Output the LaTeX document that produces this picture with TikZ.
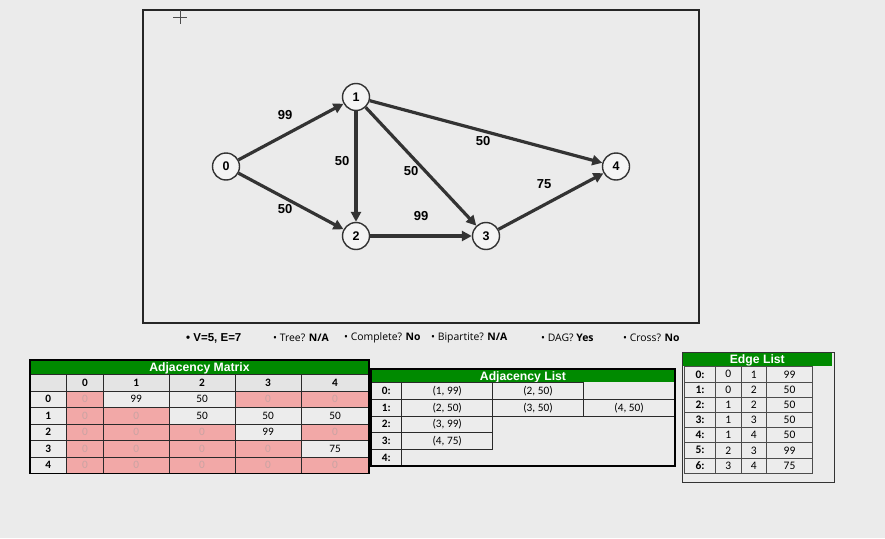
\documentclass[tikz,border=0pt]{standalone}
\usepackage{fontspec}
\setmainfont{Liberation Sans}
\newfontfamily\calib{Carlito}
\newfontfamily\statf{Open Sans}
\usetikzlibrary{arrows.meta}
\definecolor{bg}{HTML}{EBEBEB}
\definecolor{hdrgreen}{HTML}{008A00}
\definecolor{pinkc}{HTML}{F2A8A7}
\definecolor{edgec}{HTML}{333333}
\definecolor{zerotxt}{HTML}{C9A3A3}
\definecolor{cellbg}{HTML}{ECECEC}
\definecolor{hdrcell}{HTML}{E4E4E4}
\definecolor{gridc}{HTML}{2A2A2A}
\begin{document}
\begin{tikzpicture}[x=1pt,y=-1pt,
  vert/.style={circle, draw=edgec, line width=1.4pt, fill=white!45!bg, minimum size=27pt, inner sep=0pt, font=\bfseries\fontsize{12.5}{12.5}\selectfont},
  wedge/.style={draw=edgec, line width=3.2pt, -{Triangle[length=10pt,width=10pt]}},
  wlabel/.style={font=\bfseries\fontsize{13}{13}\selectfont, inner sep=0pt},
  ghead/.style={fill=hdrgreen, text=white, inner sep=0pt, text height=9.3pt, text depth=0pt, font=\bfseries\fontsize{12.2}{12.2}\selectfont},
  basecell/.style={draw=gridc, line width=0.7pt, inner sep=0pt, font=\calib\fontsize{11.3}{11.3}\selectfont},
  hcell/.style={basecell, fill=hdrcell, font=\calib\bfseries\fontsize{11.3}{11.3}\selectfont, minimum height=16.5pt},
  lcell/.style={basecell, fill=cellbg, font=\calib\bfseries\fontsize{11.3}{11.3}\selectfont},
  vcell/.style={basecell, fill=cellbg, minimum height=16.5pt},
  zcell/.style={basecell, fill=pinkc, text=zerotxt, minimum height=16.5pt},
  ecell/.style={draw=gray!60!black, line width=0.6pt, inner sep=0pt, fill=cellbg, font=\calib\fontsize{11.5}{11.5}\selectfont, minimum height=15.2pt},
  elcell/.style={ecell, font=\calib\bfseries\fontsize{11.5}{11.5}\selectfont},
  stat/.style={anchor=west, inner sep=0pt, font=\statf\fontsize{10.4}{10.4}\selectfont}
]
\useasboundingbox[fill=bg] (0,0) rectangle (885,538);

% canvas
\draw[draw=black!85, line width=1.5pt] (143,10) rectangle (699,323);
% cursor
\draw[black!70, line width=0.6pt] (173,17) -- (187,17) (180,10) -- (180,24);

% vertices
\node[vert] (v0) at (226,166.5) {0};
\node[vert] (v1) at (356,97) {1};
\node[vert] (v2) at (356,236) {2};
\node[vert] (v3) at (486,236) {3};
\node[vert] (v4) at (616,166.5) {4};

% edges
\draw[wedge] (v0) -- (v1);
\draw[wedge] (v0) -- (v2);
\draw[wedge] (v1) -- (v2);
\draw[wedge] (v1) -- (v3);
\draw[wedge] (v1) -- (v4);
\draw[wedge] (v2) -- (v3);
\draw[wedge] (v3) -- (v4);

% weights
\node[wlabel] (w01) at (285,115) {99};
\node[wlabel] (w02) at (285,209) {50};
\node[wlabel] (w12) at (342,161) {50};
\node[wlabel] (w13) at (411,171) {50};
\node[wlabel] (w23) at (421,216) {99};
\node[wlabel] (w14) at (483,141) {50};
\node[wlabel] (w34) at (544,184) {75};

% stats line
\node[stat, font=\bfseries\fontsize{11.5}{11.5}\selectfont] (s1) at (186,338) {• V=5, E=7};
\node[stat] (s2) at (273,338) {• Tree? \textbf{N/A}};
\node[stat] (s3) at (344,338) {• Complete? \textbf{No}};
\node[stat] (s4) at (431,338) {• Bipartite? \textbf{N/A}};
\node[stat] (s5) at (541,338) {• DAG? \textbf{Yes}};
\node[stat] (s6) at (623,338) {• Cross? \textbf{No}};

% ---------------- Adjacency Matrix ----------------
\node[ghead, minimum width=339pt, minimum height=14.5pt] (amhead) at (199.5,367.25) {Adjacency Matrix};
\node[hcell, minimum width=36.7pt] (am-corner) at (48.35,382.75) {};
\foreach \c in {0,...,4} {
  \pgfmathsetmacro{\xl}{{66.7,103.3,169,235,301}[\c]}
  \pgfmathsetmacro{\cw}{{36.6,65.7,66,66,68}[\c]}
  \node[hcell, minimum width=\cw pt] (am-h\c) at (\xl+\cw/2,382.75) {\c};
}
\foreach \r/\vals in {0/{0,99,50,0,0}, 1/{0,0,50,50,50}, 2/{0,0,0,99,0}, 3/{0,0,0,0,75}, 4/{0,0,0,0,0}} {
  \node[lcell, minimum width=36.7pt, minimum height=16.5pt] (am-l\r) at (48.35,399.25+16.5*\r) {\r};
  \foreach \v [count=\c from 0] in \vals {
    \pgfmathsetmacro{\xl}{{66.7,103.3,169,235,301}[\c]}
    \pgfmathsetmacro{\cw}{{36.6,65.7,66,66,68}[\c]}
    \ifnum\v=0 \def\mysty{zcell}\else\def\mysty{vcell}\fi
    \node[\mysty, minimum width=\cw pt] (am-\r-\c) at (\xl+\cw/2,399.25+16.5*\r) {\v};
  }
}
\draw[black, line width=1.1pt] (30,360) rectangle (369,473.5);

% ---------------- Adjacency List ----------------
\node[ghead, minimum width=304pt, minimum height=13pt] (alhead) at (523,375.75) {Adjacency List};
\foreach \r/\yc/\h in {0/391/17, 1/407.75/16.5, 2/424.25/16.5, 3/440.75/16.5, 4/457.5/17} {
  \node[lcell, minimum width=30.7pt, minimum height=\h pt] (al-l\r) at (386.35,\yc) {\r:};
}
\node[vcell, minimum width=91pt, minimum height=17pt] (al-0-1) at (447.2,391) {(1, 99)};
\node[vcell, minimum width=90.6pt, minimum height=17pt] (al-0-2) at (538,391) {(2, 50)};
\node[vcell, minimum width=91pt] (al-1-1) at (447.2,407.75) {(2, 50)};
\node[vcell, minimum width=90.6pt] (al-1-2) at (538,407.75) {(3, 50)};
\node[vcell, minimum width=91.7pt] (al-1-3) at (629.15,407.75) {(4, 50)};
\draw[black, line width=1.4pt] (al-1-3.north east) -- (al-1-3.south east);
\node[vcell, minimum width=91pt] (al-2-1) at (447.2,424.25) {(3, 99)};
\node[vcell, minimum width=91pt] (al-3-1) at (447.2,440.75) {(4, 75)};
\draw[black, line width=1.1pt] (371,369) rectangle (675,466);

% ---------------- Edge List ----------------
\node[ghead, minimum width=150pt, minimum height=13.2pt] (elhead) at (757.3,358.9) {Edge List};
\foreach \r/\u/\w/\wt in {0/0/1/99, 1/0/2/50, 2/1/2/50, 3/1/3/50, 4/1/4/50, 5/2/3/99, 6/3/4/75} {
  \node[elcell, minimum width=31.4pt] (el-l\r) at (700,374.3+15.2*\r) {\r:};
  \node[ecell, minimum width=25.3pt] (el-u\r) at (728.35,374.3+15.2*\r) {\u};
  \node[ecell, minimum width=25.7pt] (el-v\r) at (753.85,374.3+15.2*\r) {\w};
  \node[ecell, minimum width=45.6pt] (el-w\r) at (789.5,374.3+15.2*\r) {\wt};
}
\draw[black!80, line width=0.9pt] (682,352) rectangle (834,482);
\end{tikzpicture}
\end{document}
